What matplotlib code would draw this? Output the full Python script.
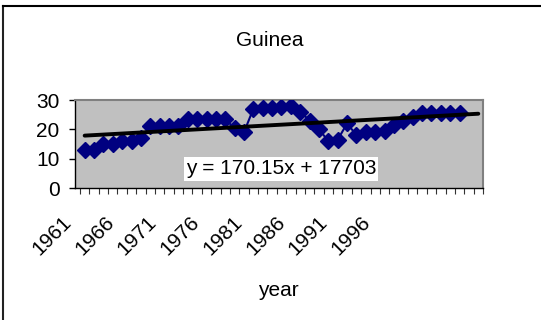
import matplotlib.pyplot as plt
import numpy as np
from matplotlib.lines import Line2D

plt.rcParams['font.family'] = ['Liberation Sans', 'DejaVu Sans']

years = list(range(1961, 2002))
values = [13, 13, 15, 15, 16, 16, 17, 21, 21, 21,
          21, 23.5, 23.5, 23.5, 23.5, 23.5, 20.3, 19, 27, 27.3,
          27.3, 27.5, 27.8, 26, 23, 20, 16, 16.5, 22, 18,
          19, 19, 19.3, 21.5, 23, 24.3, 25.5, 25.5, 25.5, 25.5,
          25.5]
n_categories = 43  # axis runs two years past the data
tick_years = ['1961', '1966', '1971', '1976', '1981', '1986', '1991', '1996']
equation = 'y = 170.15x + 17703'

idx = np.arange(len(years))
slope, intercept = np.polyfit(idx, values, 1)
trend_x = np.array([0, n_categories - 1])
trend_y = slope * trend_x + intercept

fig = plt.figure(figsize=(5.41, 3.2), dpi=100)
ax = fig.add_axes([75 / 541, 1 - 188 / 320, 408 / 541, 88 / 320])
ax.set_facecolor('#c0c0c0')

ax.plot(idx, values, color='#000080', marker='D', markersize=8,
        linewidth=1.5, zorder=3)
ax.plot(trend_x, trend_y, color='black', linewidth=2.8,
        solid_capstyle='round', zorder=4)

ax.set_xlim(-0.5, n_categories - 0.5)
ax.set_ylim(0, 30)
ax.set_yticks([0, 10, 20, 30])
ax.tick_params(axis='y', labelsize=15, length=4, width=1, pad=7)

# category boundaries get the small tick marks
ax.set_xticks(np.arange(n_categories + 1) - 0.5, minor=True)
ax.tick_params(axis='x', which='minor', length=4, width=0.8, color='#333333')
label_pos = np.arange(len(tick_years)) * 4.56 - 1.03
ax.set_xticks(label_pos)
ax.set_xticklabels(tick_years, rotation=45, ha='right', va='top', fontsize=15)
ax.tick_params(axis='x', which='major', length=0, pad=18)

for spine in ['top', 'right']:
    ax.spines[spine].set_color('#808080')
    ax.spines[spine].set_linewidth(1.5)
for spine in ['left', 'bottom']:
    ax.spines[spine].set_color('black')
    ax.spines[spine].set_linewidth(1)

ax.text(0.505, 0.216, equation, transform=ax.transAxes, fontsize=15,
        ha='center', va='center', zorder=5,
        bbox=dict(facecolor='white', edgecolor='none', pad=1.5))

fig.text(270 / 541, 1 - 40 / 320, 'Guinea', fontsize=15,
         ha='center', va='center')
fig.text(278 / 541, 1 - 290 / 320, 'year', fontsize=15,
         ha='center', va='center')

# chart frame, only the top and left edges fall inside the image
x0 = 3 / 541
y0 = 1 - 6 / 320
fig.add_artist(Line2D([x0, x0], [0, y0], color='#222222', linewidth=1.5))
fig.add_artist(Line2D([x0, 1], [y0, y0], color='black', linewidth=1.5))

fig.savefig('out.png', dpi=100)
